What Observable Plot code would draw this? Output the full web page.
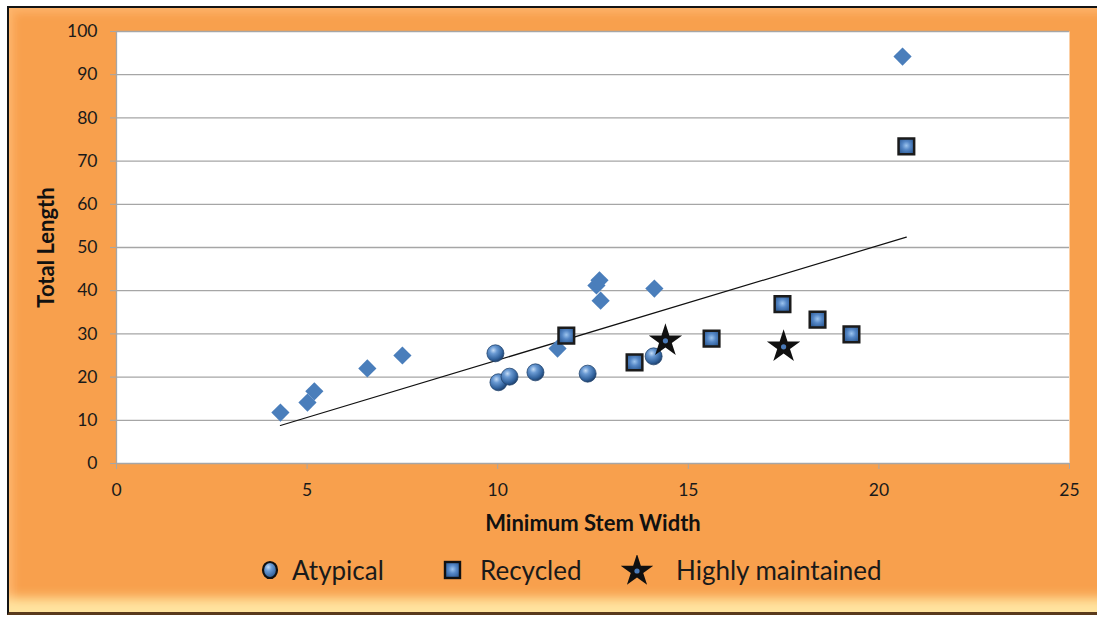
<!DOCTYPE html>
<html><head><meta charset="utf-8">
<script src="https://cdn.jsdelivr.net/npm/d3@7"></script>
<script src="https://cdn.jsdelivr.net/npm/@observablehq/plot@0.6"></script>
<style>
html,body{margin:0;padding:0;width:1097px;height:619px;overflow:hidden;background:#fff;}
#wrap{position:relative;width:1097px;height:619px;font-family:Lato,"Open Sans",sans-serif;overflow:hidden;}
#frame{position:absolute;left:7px;top:6px;width:1100px;height:604px;border:2px solid #141414;border-right:none;border-bottom:3px solid #5a3a1c;
  background:#F8A04D;
  box-shadow: inset 0 -22px 12px -8px #FFE4A0, inset 9px 9px 8px -4px #FDB36A, inset -3px 0 0 0 #F8A04D;}
#chart{position:absolute;left:0;top:0;}
#chart g[aria-label="y-axis label"] text, #chart g[aria-label="x-axis label"] text{font-weight:bold;font-size:22px;fill:#111;}
.leg{position:absolute;top:555px;height:30px;display:flex;align-items:center;font-size:26px;color:#1a1a1a;}
</style></head>
<body><div id="wrap"><div id="frame"></div><div id="chart"></div>
<div id="legend"></div></div>
<script>
// Unlabelled diamond series
const diaX = [4.30, 5.01, 5.19, 6.58, 7.50, 11.57, 12.59, 12.67, 12.70, 14.11, 20.62];
const diaY = [11.8, 14.1, 16.7, 22.0, 25.0, 26.6, 41.2, 42.4, 37.7, 40.5, 94.2];
// Atypical
const atypX = [9.94, 10.02, 10.31, 10.99, 12.36, 14.09];
const atypY = [25.5, 18.8, 20.1, 21.1, 20.8, 24.8];
// Recycled
const recX = [11.80, 13.59, 15.61, 17.47, 18.39, 19.28, 20.72];
const recY = [29.6, 23.4, 28.9, 36.9, 33.3, 29.9, 73.4];
// Highly maintained
const hmX = [14.40, 17.50];
const hmY = [28.4, 27.0];
// Trend line endpoints
const trendX = [4.30, 20.72];
const trendY = [8.8, 52.4];
const xTicks = [0, 5, 10, 15, 20, 25];
const yTicks = [0, 10, 20, 30, 40, 50, 60, 70, 80, 90, 100];
const legendLabels = ["Atypical", "Recycled", "Highly maintained"];

const zip = (xs, ys) => xs.map((x, i) => ({x, y: ys[i]}));
const dia = zip(diaX, diaY), atyp = zip(atypX, atypY), rec = zip(recX, recY), hm = zip(hmX, hmY), trend = zip(trendX, trendY);

const plot = Plot.plot({
  width: 1097, height: 540,
  marginLeft: 116, marginRight: 28, marginTop: 31, marginBottom: 77,
  style: {background: "transparent", fontFamily: "Lato, 'Open Sans', sans-serif", fontSize: "17.5px", color: "#1a1a1a", overflow: "visible"},
  x: {domain: [0, 25]},
  y: {domain: [0, 100]},
  marks: [
    Plot.frame({fill: "white", stroke: "none"}),
    Plot.gridY(yTicks, {stroke: "#a6a6a6", strokeOpacity: 1, strokeWidth: 1.3}),
    Plot.ruleX([0], {stroke: "#a6a6a6", strokeWidth: 1.3}),
    Plot.axisY(yTicks, {tickSize: 6, tickPadding: 13, stroke: "#a6a6a6", fill: "#1a1a1a", label: "Total Length", labelAnchor: "center", labelOffset: 78, labelArrow: "none"}),
    Plot.axisX(xTicks, {tickSize: 6, tickPadding: 14, stroke: "#a6a6a6", fill: "#1a1a1a", label: "Minimum Stem Width", labelAnchor: "center", labelOffset: 67, labelArrow: "none"}),
    Plot.line(trend, {x: "x", y: "y", stroke: "#111", strokeWidth: 1.2}),
    Plot.dot(dia, {x: "x", y: "y", symbol: "diamond2", r: 8.2, fill: "#4A7EBB", stroke: "none"}),
    Plot.dot(atyp, {x: "x", y: "y", symbol: "circle", r: 8.5, fill: "url(#sphere)", stroke: "#23456f", strokeWidth: 0.8}),
    Plot.dot(rec, {x: "x", y: "y", symbol: "square", r: 8.8, fill: "url(#sq)", stroke: "#1b1b1b", strokeWidth: 2.5}),
    Plot.dot(hm, {x: "x", y: "y", symbol: "star", r: 10.5, fill: "#101010", stroke: "none"}),
    Plot.dot(hm, {x: "x", y: "y", symbol: "circle", r: 2.6, fill: "#4a7ab8", stroke: "none"})
  ]
});
const defs = d3.select(plot).insert("defs", ":first-child");
const rg = defs.append("radialGradient").attr("id", "sphere").attr("cx", "38%").attr("cy", "32%").attr("r", "70%");
[["0%", "#c4dcf6"], ["30%", "#6a9ad3"], ["75%", "#32639e"], ["100%", "#1e3f6a"]].forEach(([o, c]) => rg.append("stop").attr("offset", o).attr("stop-color", c));
const sg = defs.append("radialGradient").attr("id", "sq").attr("cx", "50%").attr("cy", "45%").attr("r", "60%");
[["0%", "#9cc4ee"], ["45%", "#5587c6"], ["100%", "#2c5a94"]].forEach(([o, c]) => sg.append("stop").attr("offset", o).attr("stop-color", c));
document.getElementById("chart").appendChild(plot);

// Legend (HTML below the plot)
const leg = d3.select("#legend");
const lefts = [260, 443, 620];
const widths = [20, 20, 34];
const gaps = [12, 17, 22];
legendLabels.forEach((lab, i) => {
  const it = leg.append("div").attr("class", "leg").style("left", lefts[i] + "px");
  const s = it.append("svg").attr("width", widths[i]).attr("height", 30).style("margin-right", gaps[i] + "px");
  if (i === 0) {
    const d = s.append("defs").append("radialGradient").attr("id", "lsph").attr("cx", "38%").attr("cy", "32%").attr("r", "70%");
    [["0%", "#c4dcf6"], ["35%", "#6a9ad3"], ["100%", "#2a5890"]].forEach(([o, c]) => d.append("stop").attr("offset", o).attr("stop-color", c));
    s.append("ellipse").attr("cx", 10).attr("cy", 15).attr("rx", 7).attr("ry", 8).attr("fill", "url(#lsph)").attr("stroke", "#111").attr("stroke-width", 2.2);
  } else if (i === 1) {
    const d = s.append("defs").append("radialGradient").attr("id", "lsq").attr("cx", "50%").attr("cy", "45%").attr("r", "60%");
    [["0%", "#9cc4ee"], ["45%", "#5587c6"], ["100%", "#2c5a94"]].forEach(([o, c]) => d.append("stop").attr("offset", o).attr("stop-color", c));
    s.append("rect").attr("x", 2).attr("y", 7).attr("width", 15).attr("height", 16).attr("fill", "url(#lsq)").attr("stroke", "#111").attr("stroke-width", 2.4);
  } else {
    s.append("path").attr("transform", "translate(17,16)").attr("d", d3.symbol(d3.symbolStar, 330)()).attr("fill", "#101010");
    s.append("circle").attr("cx", 17).attr("cy", 16).attr("r", 2.6).attr("fill", "#4a7ab8");
  }
  it.append("span").text(lab);
});
</script></body></html>
